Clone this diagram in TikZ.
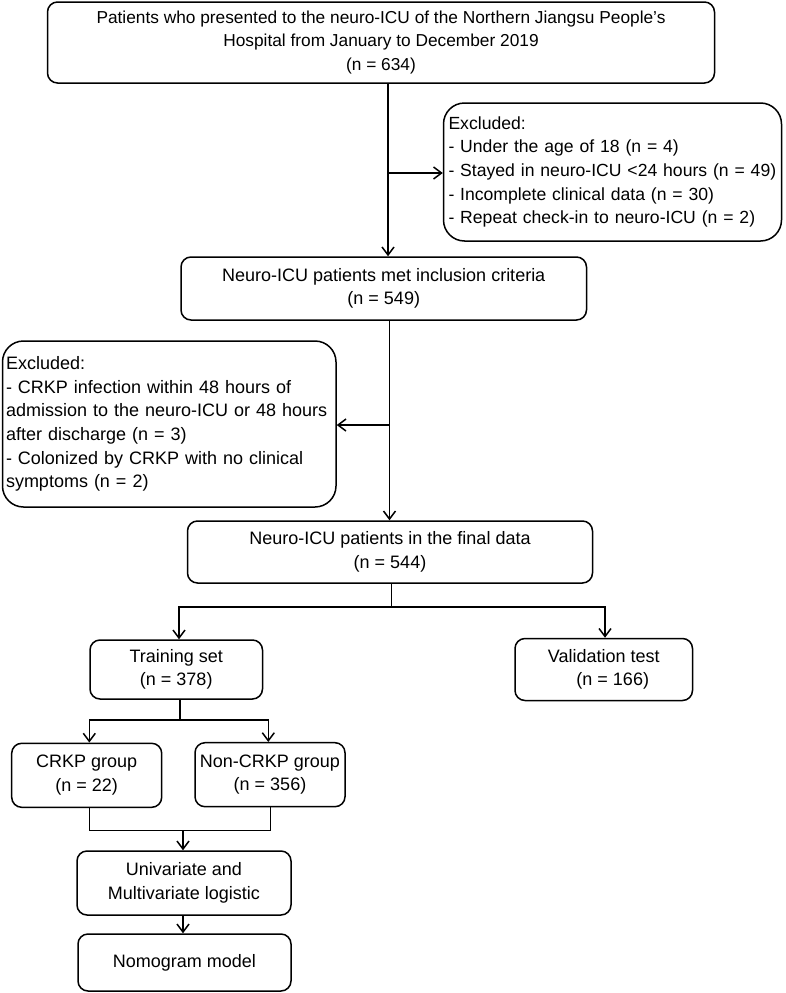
\documentclass[tikz,border=0pt]{standalone}
\usepackage{fontspec}
\setmainfont{Liberation Sans}
\usetikzlibrary{arrows.meta}
\begin{document}
\begin{tikzpicture}[x=1pt,y=-1pt,
  txt/.style={font=\fontsize{18}{23.6}\selectfont},
  box/.style={txt, draw, line width=1.5pt, rounded corners=10pt, align=center, inner sep=0pt},
  exbox/.style={txt, draw, line width=1.5pt, rounded corners=21pt, align=left, inner ysep=0pt},
  arr/.style={line width=1.5pt, -{Straight Barb[length=8pt,width=12pt]}},
  ln/.style={line width=1.5pt}]
\useasboundingbox[fill=white] (0,0) rectangle (786,993);

\node[box, font=\fontsize{17.3}{23.6}\selectfont, minimum width=667pt, minimum height=81pt] (top) at (381,42.5)
  {Patients who presented to the neuro-ICU of the Northern Jiangsu People’s\\Hospital from January to December 2019\\(n = 634)};
\node[exbox, font=\fontsize{17.6}{23.6}\selectfont, text width=328pt, inner xsep=5pt, minimum height=138pt] (ex1) at (612.5,172)
  {Excluded:\\\mbox{- Under the age of 18 (n = 4)}\\\mbox{- Stayed in neuro-ICU <24 hours (n = 49)}\\\mbox{- Incomplete clinical data (n = 30)}\\\mbox{- Repeat check-in to neuro-ICU (n = 2)}};
\node[box, minimum width=405.5pt, minimum height=63pt] (incl) at (383.75,288.5)
  {Neuro-ICU patients met inclusion criteria\\(n = 549)};
\node[exbox, text width=326.5pt, inner xsep=3.5pt, minimum height=166pt] (ex2) at (169.25,424)
  {Excluded:\\\makebox[326.5pt][s]{- CRKP infection within 48 hours of}\\\makebox[326.5pt][s]{admission to the neuro-ICU or 48 hours}\\after discharge (n = 3)\\\makebox[326.5pt][s]{- Colonized by CRKP with no clinical}\\symptoms (n = 2)};
\node[box, minimum width=405pt, minimum height=62pt] (final) at (390,552)
  {Neuro-ICU patients in the final data\\(n = 544)};
\node[box, minimum width=172.5pt, minimum height=59pt] (train) at (176.25,669.5)
  {Training set\\(n = 378)};
\node[box, minimum width=177.5pt, minimum height=62pt] (valid) at (603.75,669.5)
  {Validation test\\\hspace*{18pt}(n = 166)};
\node[box, minimum width=150pt, minimum height=64pt] (crkp) at (86.7,775.3)
  {CRKP group\\(n = 22)};
\node[box, minimum width=150pt, minimum height=64pt] (noncrkp) at (270,774.7)
  {Non-CRKP group\\(n = 356)};
\node[box, minimum width=214pt, minimum height=64pt] (univ) at (184,883)
  {Univariate and\\Multivariate logistic};
\node[box, minimum width=213pt, minimum height=57pt] (nomo) at (184.5,962.5)
  {Nomogram model};

\coordinate (j1) at (388,173);
\draw[arr] (j1 |- top.south) -- (j1 |- incl.north);
\draw[arr] (j1) -- (j1 -| ex1.west);

\coordinate (j2) at (389.5,425);
\draw[arr] (j2 |- incl.south) -- (j2 |- final.north);
\draw[arr] (j2) -- (j2 -| ex2.east);

\coordinate (j3) at (391.5,607);
\coordinate (j3l) at (179,607);
\coordinate (j3r) at (605,607);
\draw[ln] (j3 |- final.south) -- (j3);
\draw[arr] (j3) -- (j3l) -- (j3l |- train.north);
\draw[arr] (j3) -- (j3r) -- (j3r |- valid.north);

\coordinate (j4) at (180,720);
\coordinate (j4l) at (89.3,720);
\coordinate (j4r) at (268.3,720);
\draw[ln] (j4 |- train.south) -- (j4);
\draw[arr] (j4) -- (j4l) -- (j4l |- crkp.north);
\draw[arr] (j4) -- (j4r) -- (j4r |- noncrkp.north);

\coordinate (m1) at (183,830.7);
\coordinate (m1l) at (89.3,830.7);
\coordinate (m1r) at (270.7,830.7);
\draw[ln] (m1l |- crkp.south) -- (m1l) -- (m1r) -- (m1r |- noncrkp.south);
\draw[arr] (m1) -- (m1 |- univ.north);
\draw[arr] (m1 |- univ.south) -- (m1 |- nomo.north);
\end{tikzpicture}
\end{document}
